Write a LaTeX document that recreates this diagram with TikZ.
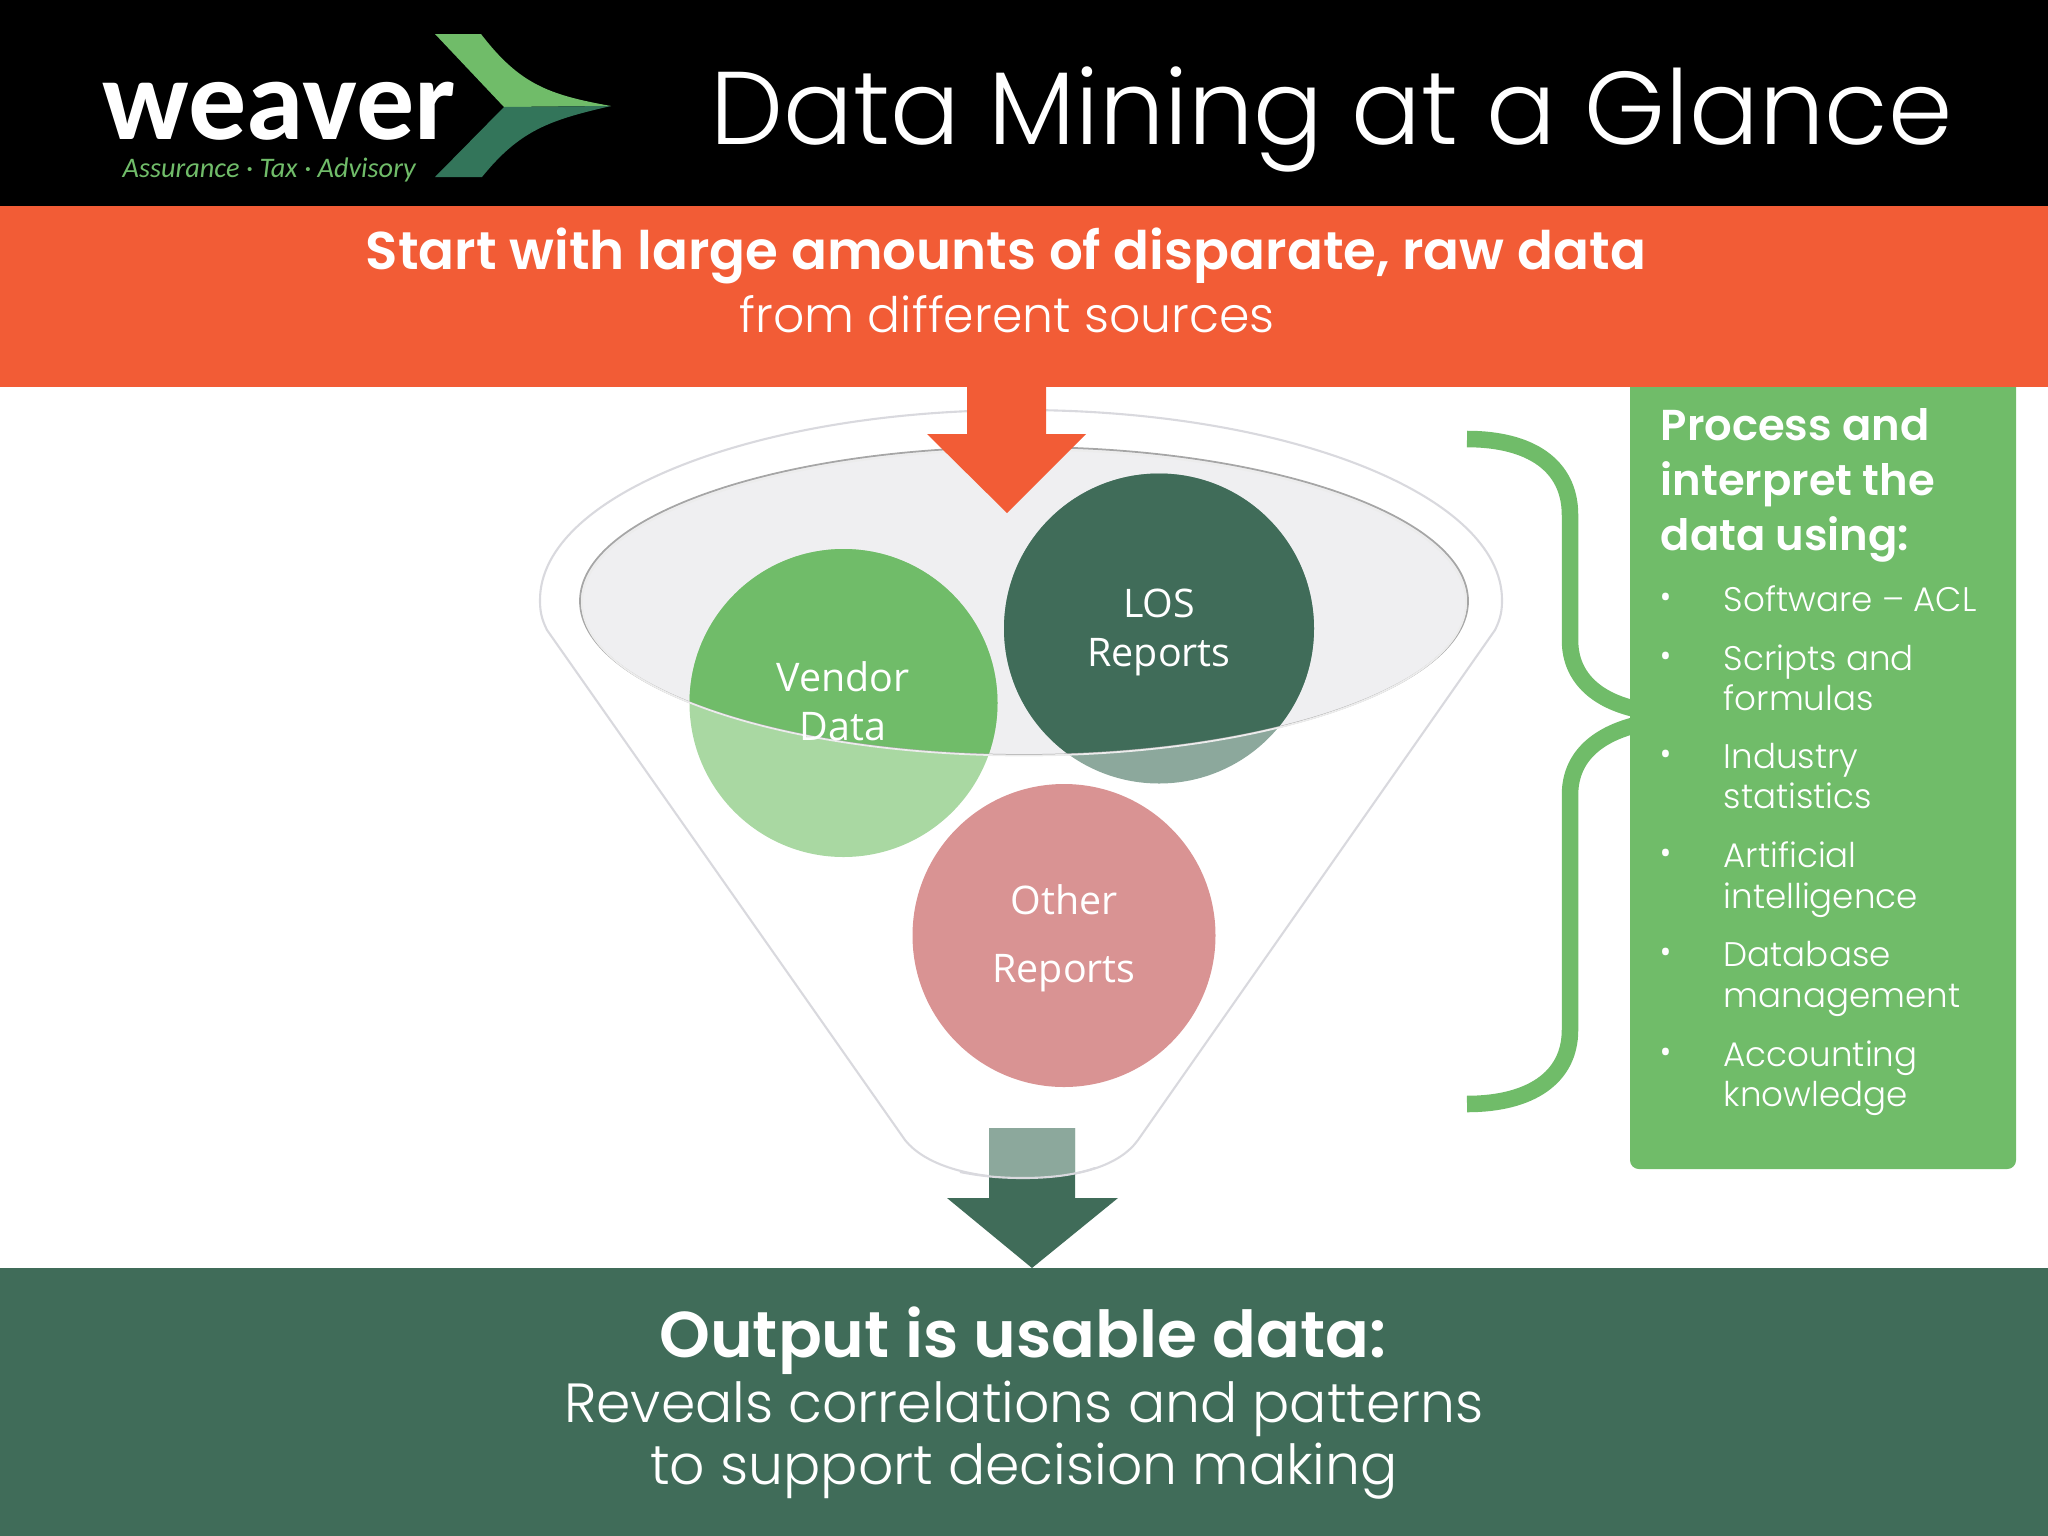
\documentclass[tikz,border=0pt]{standalone}
\usepackage{fontspec}
\setmainfont{Open Sans}
\newfontfamily\gothic{Poppins Light}[BoldFont={Poppins SemiBold}]
\newfontfamily\logofont{Carlito}
\usetikzlibrary{calc}
\definecolor{wvorange}{HTML}{F25C36}
\definecolor{wvgreen}{HTML}{70BC69}
\definecolor{wvpale}{HTML}{A9D8A2}
\definecolor{wvdark}{HTML}{406C59}
\definecolor{wvchevron}{HTML}{33755A}
\definecolor{wvsage}{HTML}{8CA89C}
\definecolor{wvpink}{HTML}{D99393}
\definecolor{wvglass}{HTML}{EFEFF1}
\definecolor{wvline}{HTML}{D9D9DE}
\newcommand{\fsz}[1]{\fontsize{#1}{#1}\selectfont}
\tikzset{
	txt/.style={inner sep=0pt, text=white, anchor=base},
	side/.style={txt, anchor=base west, font=\gothic\fsz{9.7}},
	head/.style={txt, anchor=base west, font=\gothic\bfseries\fsz{12.3}},
	bubble/.style={txt, font=\fsz{11.2}}
}
\begin{document}
\begin{tikzpicture}[x=0.01cm,y=-0.01cm]
\useasboundingbox (0,0) rectangle (2048,1536);
\def\funnelpath{(547,630) .. controls (541,618) and (540,610) .. (540,600) .. controls (540,495) and (755,410) .. (1021,410) .. controls (1287,410) and (1502,495) .. (1502,600) .. controls (1502,610) and (1501,618) .. (1495,630) -- (1138,1140) .. controls (1120,1165) and (1080,1178) .. (1023,1178) .. controls (970,1178) and (925,1165) .. (905,1140) -- cycle}
% side box and brace
\fill[wvgreen, rounded corners=2.5pt] (1630,300) rectangle (2016,1169);
\draw[wvgreen, line width=4.7pt] (1467,439) .. controls (1530,439) and (1570,465) .. (1570,515) -- (1570,640) .. controls (1570,680) and (1600,702) .. (1640,710);
\draw[wvgreen, line width=4.7pt] (1467,1104) .. controls (1530,1104) and (1570,1078) .. (1570,1030) -- (1570,795) .. controls (1570,755) and (1600,733) .. (1640,724);
% bands
\fill[black] (0,0) rectangle (2048,206);
\fill[wvorange] (0,206) rectangle (2048,387);
\fill[wvdark] (0,1268) rectangle (2048,1536);
% funnel
\fill[wvglass] (1024,601) ellipse [x radius=444, y radius=154];
\draw[wvline, line width=0.6pt] \funnelpath;
\fill[wvpale] (843.5,703) circle (154);
\fill[wvsage] (1159,628.5) circle (155);
\fill[wvpink] (1064,935.5) circle (151.5);
\begin{scope}
\clip (1024,601) ellipse [x radius=444, y radius=154];
\fill[wvgreen] (843.5,703) circle (154);
\fill[wvdark] (1159,628.5) circle (155);
\end{scope}
\draw[gray!70, line width=0.5pt] (1024,601) ellipse [x radius=444, y radius=154];
\draw[white!85!gray, line width=0.5pt] (1024,602.5) ellipse [x radius=442, y radius=153];
% arrows
\fill[wvorange] (967,380) -- (1046,380) -- (1046,434) -- (1086,434) -- (1007,513) -- (927,434) -- (967,434) -- cycle;
\fill[wvdark] (989,1128) -- (1075,1128) -- (1075,1198) -- (1118,1198) -- (1032,1268) -- (947,1198) -- (989,1198) -- cycle;
\begin{scope}
\clip \funnelpath;
\fill[wvsage] (989,1128) rectangle (1075,1198);
\end{scope}
\draw[wvline, line width=0.6pt] (960,1172) .. controls (980,1176) and (1000,1178) .. (1023,1178) .. controls (1050,1178) and (1075,1175) .. (1095,1168);
% logo
\fill[wvgreen] (435,34) -- (481,34) .. controls (520,85) and (550,95) .. (611,106) -- (504,107) -- cycle;
\fill[wvchevron] (504,107) -- (611,106) .. controls (550,120) and (520,130) .. (482,177) -- (435,177) -- cycle;
\node[txt, anchor=base west, font=\logofont\bfseries\fsz{33}] (logoname) at (102,139) {weaver};
\node[txt, anchor=base west, text=wvgreen, font=\logofont\itshape\fsz{8.05}] (logotag) at (122,177) {Assurance · Tax · Advisory};
% texts
\node[txt, anchor=base west, font=\gothic\fsz{29.4}] (title) at (710,144) {Data Mining at a Glance};
\node[txt, font=\gothic\bfseries\fsz{15.1}] (startline) at (1006,269) {Start with large amounts of disparate, raw data};
\node[txt, font=\gothic\fsz{13.9}] (fromline) at (1007,332) {from different sources};
\node[txt, font=\gothic\bfseries\fsz{18.4}] (outline) at (1023,1357) {Output is usable data:};
\node[txt, font=\gothic\fsz{15.7}] (revline) at (1024,1422) {Reveals correlations and patterns};
\node[txt, font=\gothic\fsz{15.7}] (toline) at (1024,1484) {to support decision making};
\node[bubble] (vendor) at (843,691) {Vendor};
\node[bubble] (vendata) at (843,740) {Data};
\node[bubble] (los) at (1159,617) {LOS};
\node[bubble] (losrep) at (1159,666) {Reports};
\node[bubble] (other) at (1064,914) {Other};
\node[bubble] (othrep) at (1064,982) {Reports};
% side list
\node[head] (procline) at (1660,440) {Process and};
\node[head] (intline) at (1660,495) {interpret the};
\node[head] (dataline) at (1660,550) {data using:};
\foreach \name/\ypos/\lab in {a/611/Software – ACL, b/670/Scripts and, c/768/Industry, d/867/Artificial, e/966/Database, f/1066/Accounting}
	\node[side] (item\name) at (1723,\ypos) {\lab};
\foreach \name/\ypos/\lab in {b/710/formulas, c/808/statistics, d/908/intelligence, e/1007/management, f/1106/knowledge}
	\node[side] (more\name) at (1723,\ypos) {\lab};
\foreach \name/\ypos in {a/611, b/670, c/768, d/867, e/966, f/1066}
	\node[side, font=\fsz{9}] (dot\name) at (1659,\ypos-3) {\textbullet};
\end{tikzpicture}
\end{document}
